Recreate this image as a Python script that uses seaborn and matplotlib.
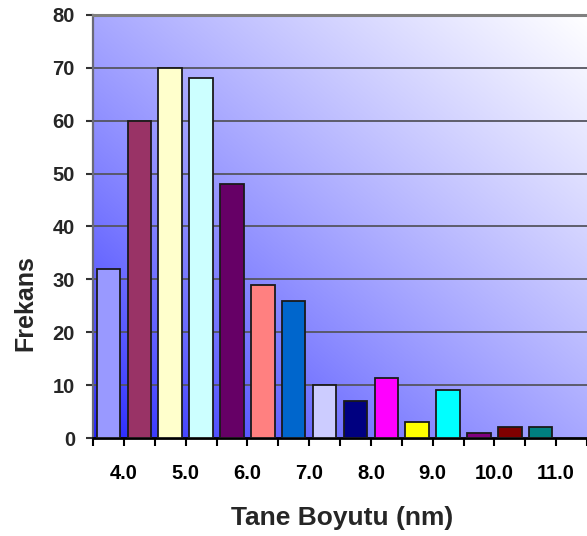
import numpy as np
import pandas as pd
import matplotlib
matplotlib.use("Agg")
import matplotlib.pyplot as plt
import seaborn as sns

# ---- data ----
bin_centers = ["3.75", "4.25", "4.75", "5.25", "5.75", "6.25", "6.75", "7.25",
               "7.75", "8.25", "8.75", "9.25", "9.75", "10.25", "10.75"]
frequencies = [32, 60, 70, 68, 48, 29, 26, 10, 7, 11.3, 3, 9, 1, 2, 2]
bar_colors = ["#9999FF", "#993366", "#FFFFCC", "#CCFFFF", "#660066", "#FF8080",
              "#0066CC", "#CCCCFF", "#000080", "#FF00FF", "#FFFF00", "#00FFFF",
              "#800080", "#800000", "#008080"]
x_tick_labels = ["4.0", "5.0", "6.0", "7.0", "8.0", "9.0", "10.0", "11.0"]
y_ticks = [0, 10, 20, 30, 40, 50, 60, 70, 80]

df = pd.DataFrame({"bin": bin_centers, "freq": frequencies})

sns.set_theme(style="white")
plt.rcParams["font.family"] = ["Liberation Sans", "DejaVu Sans"]
plt.rcParams["font.weight"] = "bold"

fig = plt.figure(figsize=(5.87, 5.36), dpi=100)
ax = fig.add_axes([93 / 587, (536 - 438) / 536, 1 - 93 / 587, (438 - 15) / 536])

# gradient background: blue at bottom-left to white at top-right
nx, ny = 300, 260
gx = np.linspace(0, 1, nx)
gy = np.linspace(0, 1, ny)
X, Y = np.meshgrid(gx, gy)
t = np.clip((X + Y) / 2.0, 0, 1) ** 0.7
rg = (28 + 227 * t) / 255.0
img = np.dstack([rg, rg, np.ones_like(rg)])
ax.imshow(img, origin="lower", extent=[0, 1, 0, 1], transform=ax.transAxes,
          aspect="auto", zorder=0, interpolation="bilinear")

sns.barplot(data=df, x="bin", y="freq", hue="bin", palette=bar_colors,
            legend=False, width=0.76, edgecolor="#1a1a1a", linewidth=1.3,
            ax=ax, zorder=3, saturation=1)

ax.set_xlim(-0.5, 15.33)
ax.set_ylim(0, 80)

# grid lines
for yv in y_ticks[1:-1]:
    ax.axhline(yv, color="#555560", lw=1.3, zorder=2)

ax.set_yticks(y_ticks)
ax.set_yticklabels([str(v) for v in y_ticks], fontsize=14.5, fontweight="bold")
major = np.arange(-0.5, 15.6, 1.0)
ax.set_xticks(major)
ax.set_xticklabels(["" for _ in major])
# labels every other tick
for i, lab in enumerate(x_tick_labels):
    ax.text(0.5 + 2 * i, -6.7, lab, ha="center", va="center",
            fontsize=14.5, fontweight="bold", color="black", clip_on=False)

ax.tick_params(axis="y", direction="out", length=5, width=1.5, color="#333333",
               pad=8, left=True)
ax.tick_params(axis="x", direction="out", length=6, width=1.5, color="black",
               bottom=True)

ax.spines["right"].set_visible(False)
ax.spines["top"].set_color("#808080")
ax.spines["top"].set_linewidth(2.2)
ax.spines["left"].set_color("#6a6a78")
ax.spines["left"].set_linewidth(1.6)
ax.spines["bottom"].set_color("black")
ax.spines["bottom"].set_linewidth(2)
ax.set_xlabel("")
ax.set_ylabel("")

fig.text(342 / 587, 1 - 518 / 536, "Tane Boyutu (nm)", ha="center", va="center",
         fontsize=19, fontweight="bold")
fig.text(25 / 587, 1 - 303 / 536, "Frekans", ha="center", va="center",
         rotation=90, fontsize=18, fontweight="bold")

fig.savefig("out.png", dpi=100)
